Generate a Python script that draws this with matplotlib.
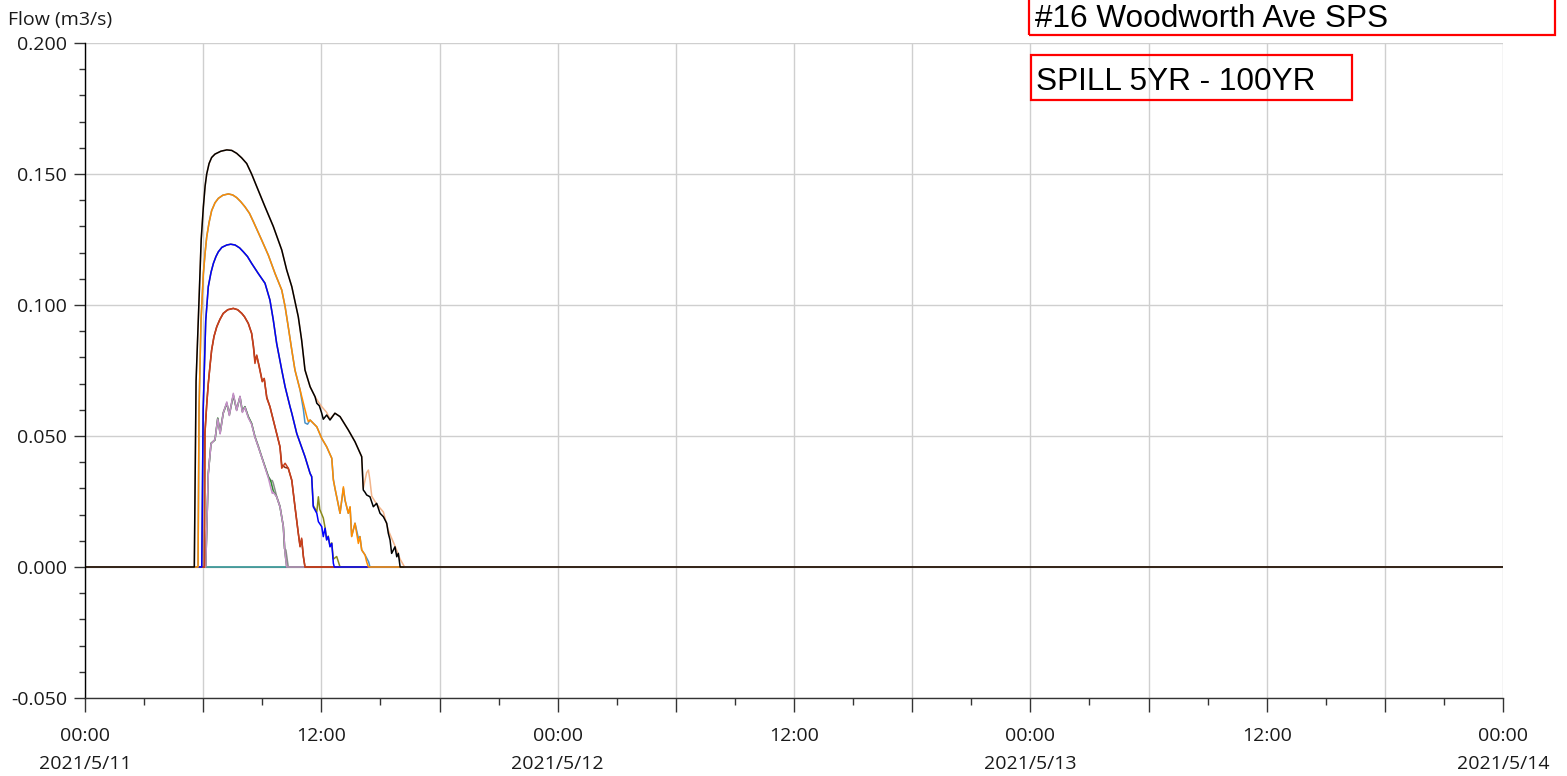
import matplotlib
matplotlib.use("Agg")
import matplotlib.pyplot as plt
import matplotlib.dates as mdates
from matplotlib.patches import Rectangle
from matplotlib.ticker import MultipleLocator, FuncFormatter
import numpy as np
import pandas as pd

# ---------------------------------------------------------------------------
# Spill flow hydrographs, #16 Woodworth Ave SPS (hours after 2021-05-11 00:00)
# ---------------------------------------------------------------------------
START = pd.Timestamp("2021-05-11 00:00")
END = pd.Timestamp("2021-05-14 00:00")

title_text = "#16 Woodworth Ave SPS"
subtitle_text = "SPILL 5YR - 100YR"
y_label = "Flow (m3/s)"

# flat (no spill) run
base_h = [0.0, 72.0]
base_q = [0.0, 0.0]

# 5YR runs
yr5a_h = [0.0, 6.13, 6.26, 6.40, 6.60, 6.74, 6.86, 7.02, 7.20, 7.33, 7.53, 7.70, 7.87, 7.99,
          8.12, 8.29, 8.46, 8.63, 8.80, 8.97, 9.14, 9.31, 9.44, 9.51, 9.56, 9.73, 9.90,
          10.07, 10.12, 10.20, 10.32, 72.0]
yr5a_q = [0.0, 0.0, 0.0357, 0.0472, 0.0485, 0.0568, 0.0515, 0.0590, 0.0625, 0.0585, 0.0656,
          0.0600, 0.0650, 0.0595, 0.0612, 0.0574, 0.0548, 0.0497, 0.0462, 0.0421, 0.0383,
          0.0345, 0.0330, 0.0330, 0.0320, 0.0270, 0.0232, 0.0156, 0.0070, 0.0065, 0.0, 0.0]

yr5b_h = [0.0, 6.13, 6.26, 6.40, 6.60, 6.74, 6.86, 7.02, 7.20, 7.33, 7.53, 7.70, 7.87, 7.99,
          8.12, 8.29, 8.46, 8.63, 8.80, 8.97, 9.14, 9.31, 9.44, 9.51, 9.56, 9.73, 9.90,
          10.07, 10.16, 10.24, 72.0]
yr5b_q = [0.0, 0.0, 0.0357, 0.0470, 0.0487, 0.0565, 0.0508, 0.0587, 0.0630, 0.0578, 0.0663,
          0.0597, 0.0652, 0.0590, 0.0610, 0.0570, 0.0545, 0.0495, 0.0458, 0.0420, 0.0380,
          0.0340, 0.0300, 0.0281, 0.0285, 0.0268, 0.0230, 0.0154, 0.0052, 0.0, 0.0]

yr5c_h = [0.0, 6.13, 6.26, 6.40, 6.60, 6.74, 6.86, 7.02, 7.20, 7.33, 7.53, 7.70, 7.87, 7.99,
          8.12, 8.29, 8.46, 8.63, 8.80, 8.97, 9.14, 9.31, 9.44, 9.56, 9.73, 9.90,
          10.07, 10.16, 10.24, 72.0]
yr5c_q = [0.0, 0.0, 0.0357, 0.0472, 0.0485, 0.0568, 0.0510, 0.0587, 0.0625, 0.0580, 0.0656,
          0.0599, 0.0650, 0.0593, 0.0612, 0.0574, 0.0548, 0.0497, 0.0459, 0.0421, 0.0383,
          0.0345, 0.0326, 0.0290, 0.0268, 0.0230, 0.0154, 0.0052, 0.0, 0.0]

# 10YR runs
yr10a_h = [0.0, 6.06, 6.09, 6.18, 6.26, 6.35, 6.43, 6.55, 6.69, 6.85, 7.02, 7.25, 7.53, 7.75,
           7.96, 8.10, 8.29, 8.46, 8.55, 8.63, 8.72, 8.84, 9.00, 9.10, 9.23, 9.39, 9.56, 9.73,
           9.90, 9.99, 10.16, 10.32, 10.50, 10.66, 10.83, 10.92, 11.00, 11.09, 11.17, 72.0]
yr10a_q = [0.0, 0.0, 0.0510, 0.0620, 0.0700, 0.0770, 0.0828, 0.0880, 0.0917, 0.0945, 0.0968,
           0.0982, 0.0987, 0.0982, 0.0968, 0.0955, 0.0930, 0.0892, 0.0841, 0.0777, 0.0809,
           0.0765, 0.0707, 0.0720, 0.0644, 0.0612, 0.0561, 0.0510, 0.0459, 0.0377, 0.0396,
           0.0377, 0.0332, 0.0230, 0.0129, 0.0077, 0.0110, 0.0039, 0.0, 0.0]

yr10b_h = [0.0, 6.06, 6.09, 6.18, 6.26, 6.35, 6.43, 6.55, 6.69, 6.85, 7.02, 7.25, 7.53, 7.75,
           7.96, 8.10, 8.29, 8.46, 8.55, 8.63, 8.72, 8.84, 9.00, 9.10, 9.23, 9.39, 9.56, 9.73,
           9.90, 9.99, 10.16, 10.32, 10.50, 10.66, 10.83, 10.92, 11.00, 11.09, 11.17, 72.0]
yr10b_q = [0.0, 0.0, 0.0510, 0.0620, 0.0700, 0.0770, 0.0828, 0.0880, 0.0917, 0.0945, 0.0968,
           0.0982, 0.0987, 0.0982, 0.0968, 0.0955, 0.0930, 0.0892, 0.0845, 0.0790, 0.0805,
           0.0768, 0.0710, 0.0718, 0.0648, 0.0612, 0.0561, 0.0510, 0.0459, 0.0390, 0.0380,
           0.0377, 0.0330, 0.0232, 0.0129, 0.0080, 0.0105, 0.0039, 0.0, 0.0]

# 25YR runs
yr25a_h = [0.0, 5.93, 6.00, 6.13, 6.26, 6.40, 6.52, 6.65, 6.77, 6.95, 7.20, 7.40, 7.62, 7.85,
           8.04, 8.25, 8.46, 8.80, 9.14, 9.39, 9.56, 9.73, 9.99, 10.16, 10.41, 10.50, 10.75,
           11.17, 11.43, 11.51, 11.59, 11.77, 11.85, 12.02, 12.10, 12.19, 12.27, 12.35, 12.44,
           12.53, 12.61, 12.66, 72.0]
yr25a_q = [0.0, 0.0, 0.0600, 0.0940, 0.1070, 0.1125, 0.1159, 0.1185, 0.1203, 0.1220, 0.1229,
           0.1232, 0.1229, 0.1218, 0.1203, 0.1185, 0.1159, 0.1120, 0.1083, 0.1019, 0.0943,
           0.0854, 0.0752, 0.0688, 0.0612, 0.0587, 0.0510, 0.0421, 0.0357, 0.0345, 0.0230,
           0.0205, 0.0173, 0.0154, 0.0116, 0.0148, 0.0103, 0.0116, 0.0077, 0.0090, 0.0014,
           0.0, 0.0]

yr25b_h = [0.0, 5.93, 6.00, 6.13, 6.26, 6.40, 6.52, 6.65, 6.77, 6.95, 7.20, 7.40, 7.62, 7.85,
           8.04, 8.25, 8.46, 8.80, 9.14, 9.39, 9.56, 9.73, 9.99, 10.16, 10.41, 10.50, 10.75,
           11.17, 11.43, 11.51, 11.59, 11.77, 11.85, 11.92, 12.10, 12.19, 12.27, 12.35, 12.44,
           12.53, 12.61, 12.78, 12.95, 72.0]
yr25b_q = [0.0, 0.0, 0.0600, 0.0940, 0.1070, 0.1125, 0.1159, 0.1185, 0.1203, 0.1220, 0.1229,
           0.1232, 0.1229, 0.1218, 0.1203, 0.1185, 0.1159, 0.1120, 0.1083, 0.1019, 0.0943,
           0.0854, 0.0752, 0.0688, 0.0612, 0.0587, 0.0510, 0.0421, 0.0357, 0.0345, 0.0235,
           0.0210, 0.0268, 0.0220, 0.0187, 0.0150, 0.0105, 0.0118, 0.0080, 0.0092, 0.0030,
           0.0040, 0.0, 0.0]

# 50YR runs
yr50a_h = [0.0, 5.74, 5.79, 5.89, 6.01, 6.10, 6.18, 6.30, 6.43, 6.60, 6.77, 7.00, 7.28, 7.50,
           7.70, 7.90, 8.12, 8.35, 8.55, 8.97, 9.31, 9.65, 9.99, 10.16, 10.32, 10.50, 10.66,
           10.92, 11.09, 11.26, 11.34, 11.43, 11.77, 12.02, 12.27, 12.53, 12.61, 12.78, 12.95,
           13.12, 13.20, 13.37, 13.46, 13.54, 13.71, 13.88, 13.96, 14.05, 14.22, 14.30, 14.39,
           72.0]
yr50a_q = [0.0, 0.0, 0.0600, 0.0940, 0.1120, 0.1200, 0.1260, 0.1315, 0.1360, 0.1390, 0.1407,
           0.1419, 0.1424, 0.1420, 0.1410, 0.1395, 0.1375, 0.1350, 0.1318, 0.1248, 0.1190,
           0.1120, 0.1057, 0.0994, 0.0917, 0.0828, 0.0752, 0.0676, 0.0625, 0.0574, 0.0555,
           0.0561, 0.0535, 0.0491, 0.0459, 0.0415, 0.0332, 0.0268, 0.0205, 0.0306, 0.0256,
           0.0205, 0.0230, 0.0116, 0.0167, 0.0090, 0.0116, 0.0065, 0.0046, 0.0020, 0.0, 0.0]

yr50b_h = [0.0, 5.74, 5.79, 5.89, 6.01, 6.10, 6.18, 6.30, 6.43, 6.60, 6.77, 7.00, 7.28, 7.50,
           7.70, 7.90, 8.12, 8.35, 8.55, 8.97, 9.31, 9.65, 9.99, 10.16, 10.32, 10.50, 10.66,
           10.92, 11.09, 11.17, 11.30, 11.43, 11.77, 12.02, 12.27, 12.53, 12.61, 12.69, 12.78,
           12.95, 13.12, 13.20, 13.37, 13.46, 13.54, 13.71, 13.88, 13.96, 14.05, 14.22, 14.40,
           14.47, 72.0]
yr50b_q = [0.0, 0.0, 0.0600, 0.0940, 0.1120, 0.1200, 0.1260, 0.1315, 0.1360, 0.1390, 0.1407,
           0.1419, 0.1424, 0.1420, 0.1410, 0.1395, 0.1375, 0.1350, 0.1318, 0.1248, 0.1190,
           0.1120, 0.1057, 0.0994, 0.0917, 0.0828, 0.0752, 0.0676, 0.0600, 0.0550, 0.0545,
           0.0561, 0.0535, 0.0491, 0.0459, 0.0415, 0.0335, 0.0300, 0.0268, 0.0205, 0.0300,
           0.0256, 0.0205, 0.0228, 0.0118, 0.0167, 0.0110, 0.0116, 0.0065, 0.0046, 0.0020,
           0.0, 0.0]

# 100YR runs
yr100a_h = [0.0, 5.55, 5.64, 5.79, 5.90, 6.01, 6.10, 6.18, 6.30, 6.43, 6.60, 6.90, 7.20, 7.45,
            7.70, 7.95, 8.21, 8.46, 8.72, 9.14, 9.56, 9.99, 10.24, 10.50, 10.83, 11.00, 11.17,
            11.43, 11.68, 11.77, 11.90, 12.02, 12.10, 12.27, 12.44, 12.69, 12.95, 13.37, 13.71,
            14.05, 14.13, 14.22, 14.30, 14.47, 14.64, 14.81, 14.98, 15.15, 15.32, 15.40, 15.49,
            15.57, 15.74, 15.83, 15.91, 16.00, 72.0]
yr100a_q = [0.0, 0.0, 0.0710, 0.1020, 0.1250, 0.1375, 0.1455, 0.1500, 0.1540, 0.1563, 0.1576,
            0.1587, 0.1592, 0.1590, 0.1579, 0.1562, 0.1540, 0.1500, 0.1452, 0.1375, 0.1300,
            0.1210, 0.1134, 0.1070, 0.0955, 0.0866, 0.0752, 0.0688, 0.0650, 0.0625, 0.0615,
            0.0587, 0.0564, 0.0580, 0.0561, 0.0587, 0.0574, 0.0523, 0.0478, 0.0421, 0.0294,
            0.0285, 0.0275, 0.0268, 0.0230, 0.0243, 0.0205, 0.0192, 0.0167, 0.0129, 0.0103,
            0.0052, 0.0077, 0.0039, 0.0052, 0.0, 0.0]

yr100b_h = [0.0, 5.55, 5.64, 5.79, 5.90, 6.01, 6.10, 6.18, 6.30, 6.43, 6.60, 6.90, 7.20, 7.45,
            7.70, 7.95, 8.21, 8.46, 8.72, 9.14, 9.56, 9.99, 10.24, 10.50, 10.83, 11.00, 11.17,
            11.43, 11.68, 11.85, 12.02, 12.10, 12.27, 12.44, 12.69, 12.95, 13.37, 13.71, 14.05,
            14.13, 14.30, 14.39, 14.47, 14.56, 14.81, 15.15, 15.40, 15.74, 16.00, 16.15, 16.23,
            72.0]
yr100b_q = [0.0, 0.0, 0.0710, 0.1020, 0.1250, 0.1375, 0.1455, 0.1500, 0.1540, 0.1563, 0.1576,
            0.1587, 0.1592, 0.1590, 0.1579, 0.1562, 0.1540, 0.1500, 0.1452, 0.1375, 0.1300,
            0.1210, 0.1134, 0.1070, 0.0955, 0.0866, 0.0752, 0.0688, 0.0650, 0.0630, 0.0612,
            0.0605, 0.0590, 0.0565, 0.0587, 0.0574, 0.0523, 0.0478, 0.0421, 0.0300, 0.0360,
            0.0370, 0.0330, 0.0270, 0.0240, 0.0210, 0.0140, 0.0080, 0.0030, 0.0010, 0.0, 0.0]

# drawn bottom to top
runs = [
    (base_h, base_q, "#1f8a8a"),
    (yr5a_h, yr5a_q, "#8c8c8c"),
    (yr5c_h, yr5c_q, "#2e8b2e"),
    (yr5b_h, yr5b_q, "#c58fc8"),
    (yr10b_h, yr10b_q, "#8b2a10"),
    (yr10a_h, yr10a_q, "#c8401c"),
    (yr25b_h, yr25b_q, "#8a8a1a"),
    (yr25a_h, yr25a_q, "#0000ff"),
    (yr50b_h, yr50b_q, "#4a92c8"),
    (yr50a_h, yr50a_q, "#ff8c00"),
    (yr100b_h, yr100b_q, "#f2b48a"),
    (yr100a_h, yr100a_q, "#000000"),
]

W, H = 1567, 776
fig = plt.figure(figsize=(W / 100, H / 100), dpi=100)
ax = fig.add_axes([85 / W, 1 - 698 / H, (1503 - 85) / W, (698 - 43) / H])

tick_font = "Open Sans"

for hrs, q, col in runs:
    t = START + pd.to_timedelta(np.asarray(hrs), unit="h")
    ax.plot(t, q, color=col, lw=1.1, solid_joinstyle="round")

ax.set_xlim(START, END)
ax.set_ylim(-0.05, 0.2)

# y axis
ax.yaxis.set_major_locator(MultipleLocator(0.05))
ax.yaxis.set_minor_locator(MultipleLocator(0.01))
ax.yaxis.set_major_formatter(FuncFormatter(lambda v, p: f"{v:.3f}"))

# x axis: grid every 6 h, labels at 00:00 and 12:00
ax.xaxis.set_major_locator(mdates.HourLocator(byhour=[0, 6, 12, 18]))
ax.xaxis.set_minor_locator(mdates.HourLocator(byhour=range(0, 24, 3)))


def xfmt(v, pos):
    d = mdates.num2date(v)
    if d.hour == 0:
        return f"00:00\n{d.year}/{d.month}/{d.day}"
    if d.hour == 12:
        return "12:00"
    return ""


ax.xaxis.set_major_formatter(FuncFormatter(xfmt))

ax.grid(which="major", color="#cfcfcf", lw=1.0)
ax.set_axisbelow(True)

for s in ("top", "right"):
    ax.spines[s].set_visible(False)
ax.spines["left"].set_color("#000000")
ax.spines["bottom"].set_color("#333333")
ax.spines["left"].set_linewidth(1.0)
ax.spines["bottom"].set_linewidth(1.0)

ax.tick_params(axis="y", which="major", length=8, width=1, pad=5, color="#333333",
               labelsize=14, labelcolor="#1a1a1a")
ax.tick_params(axis="y", which="minor", length=4, width=1, color="#333333")
ax.tick_params(axis="x", which="major", length=10, width=1, pad=11, color="#333333",
               labelsize=14, labelcolor="#1a1a1a")
ax.tick_params(axis="x", which="minor", length=5, width=1, color="#333333")
for lab in ax.get_xticklabels() + ax.get_yticklabels():
    lab.set_fontfamily(tick_font)
for lab in ax.get_xticklabels():
    lab.set_linespacing(1.7)
    lab.set_verticalalignment("top")

fig.text(8 / W, 1 - 20 / H, y_label, fontsize=14, family=tick_font, color="#1a1a1a",
         va="center", ha="left")

# boxed headings
box_style = dict(fill=False, edgecolor="#ff0000", lw=1.6, transform=fig.transFigure,
                 clip_on=False)
fig.patches.append(Rectangle((1029 / W, 1 - 35 / H), (1555 - 1029) / W, 40 / H, **box_style))
fig.patches.append(Rectangle((1031 / W, 1 - 100 / H), (1352 - 1031) / W, 45 / H, **box_style))
fig.text(1035 / W, 1 - 27 / H, title_text, fontsize=22.7, family="Liberation Sans",
         color="black", va="baseline", ha="left")
fig.text(1036 / W, 1 - 90 / H, subtitle_text, fontsize=22.7, family="Liberation Sans",
         color="black", va="baseline", ha="left")

fig.savefig("out.png", dpi=100)
